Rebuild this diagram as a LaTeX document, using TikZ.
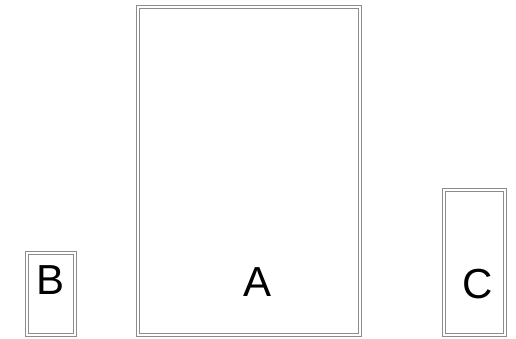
\documentclass[tikz,border=0pt]{standalone}
\usepackage{fontspec}
\setmainfont{Liberation Sans}
\begin{document}
\begin{tikzpicture}[x=1pt,y=-1pt,
  box/.style={draw=black!45, double=white, double distance=1.4pt, line width=1pt},
  lbl/.style={font=\fontsize{42}{42}\selectfont, inner sep=0pt}]
\useasboundingbox (0,0) rectangle (516,338);
\draw[box] (138,7) rectangle (360,335);
\draw[box] (27,253) rectangle (75,335);
\draw[box] (444,190) rectangle (505,335);
\node[lbl] (A) at (258,282) {A};
\node[lbl] (B) at (51,280) {B};
\node[lbl] (C) at (478,284) {C};
\end{tikzpicture}
\end{document}
